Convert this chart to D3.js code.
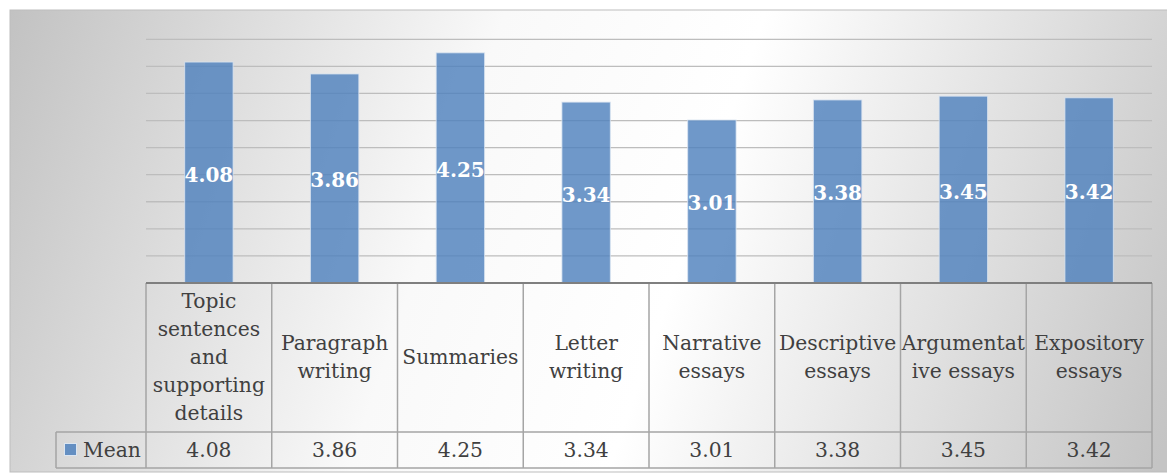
<!DOCTYPE html>
<html>
<head>
<meta charset="utf-8">
<script src="https://cdn.jsdelivr.net/npm/d3@7"></script>
<style>
  body { margin: 0; background: #fff; }
  svg { display: block; }
</style>
</head>
<body>
<div id="chart"></div>
<script>
// Chart data
const categories = ["Topic sentences and supporting details", "Paragraph writing", "Summaries",
    "Letter writing", "Narrative essays", "Descriptive essays", "Argumentative essays", "Expository essays"];
// how each category label wraps inside its table cell
const categoryLines = [
    ["Topic", "sentences", "and", "supporting", "details"],
    ["Paragraph", "writing"],
    ["Summaries"],
    ["Letter", "writing"],
    ["Narrative", "essays"],
    ["Descriptive", "essays"],
    ["Argumentat", "ive essays"],
    ["Expository", "essays"]
];
const seriesName = "Mean";
const meanValues = [4.08, 3.86, 4.25, 3.34, 3.01, 3.38, 3.45, 3.42];
const yTicks = [0, 0.5, 1, 1.5, 2, 2.5, 3, 3.5, 4, 4.5];

const width = 1167, height = 476;
const plot = {left: 146, right: 1152, top: 39.3, bottom: 283};
const headerBottom = 432, tableBottom = 468;
const legendLeft = 56;
const serif = "'DejaVu Serif', 'Liberation Serif', serif";
const tableFont = "20.3px";

let svg = d3.select("#chart")
    .append("svg")
    .attr("width", width)
    .attr("height", height);

// Background gradient of the chart area (grey edges, white middle, slightly tilted)
let defs = svg.append("defs");
let grad = defs.append("linearGradient")
    .attr("id", "bg")
    .attr("gradientUnits", "userSpaceOnUse")
    .attr("x1", 0).attr("y1", 40)
    .attr("x2", 1167).attr("y2", 440);
grad.append("stop").attr("offset", "0%").attr("stop-color", "#c2c2c2");
grad.append("stop").attr("offset", "38%").attr("stop-color", "#f9f9f9");
grad.append("stop").attr("offset", "58%").attr("stop-color", "#ffffff");
grad.append("stop").attr("offset", "100%").attr("stop-color", "#c4c4c4");

svg.append("rect")
    .attr("x", 10).attr("y", 10)
    .attr("width", 1170).attr("height", 462)
    .attr("fill", "url(#bg)")
    .attr("stroke", "#bdbdbd")
    .attr("stroke-width", 1);

// Scales
let x = d3.scaleBand()
    .domain(categories)
    .range([plot.left, plot.right])
    .paddingInner(0.615)
    .paddingOuter(0.3075);

let col = d3.scaleBand()
    .domain(categories)
    .range([plot.left, plot.right]);

let y = d3.scaleLinear()
    .domain([0, 4.5])
    .range([plot.bottom, plot.top]);

// Gridlines
svg.append("g")
    .selectAll("line")
    .data(yTicks.slice(1))
    .join("line")
    .attr("x1", plot.left).attr("x2", plot.right)
    .attr("y1", d => y(d)).attr("y2", d => y(d))
    .attr("stroke", "#bdbdbd")
    .attr("stroke-width", 1.3);

// Bars
svg.append("g")
    .selectAll("rect")
    .data(meanValues)
    .join("rect")
    .attr("x", (d, i) => x(categories[i]))
    .attr("y", d => y(d))
    .attr("width", x.bandwidth())
    .attr("height", d => y(0) - y(d))
    .attr("fill", "#4f81bd")
    .attr("fill-opacity", 0.82)
    .attr("stroke", "#dbe5f1")
    .attr("stroke-opacity", 0.8)
    .attr("stroke-width", 1);

// Data labels (centered in bars)
svg.append("g")
    .selectAll("text")
    .data(meanValues)
    .join("text")
    .attr("x", (d, i) => x(categories[i]) + x.bandwidth() / 2)
    .attr("y", d => (y(d) + y(0)) / 2 + 2)
    .attr("text-anchor", "middle")
    .attr("dominant-baseline", "central")
    .style("font-family", serif)
    .style("font-weight", "bold")
    .style("font-size", "20px")
    .style("fill", "#ffffff")
    .text(d => d.toFixed(2));

// Data table
let table = svg.append("g");
const gridColor = "#a5a5a5";

// vertical column separators
table.selectAll("line.col")
    .data(d3.range(categories.length + 1))
    .join("line")
    .attr("class", "col")
    .attr("x1", i => plot.left + i * col.bandwidth())
    .attr("x2", i => plot.left + i * col.bandwidth())
    .attr("y1", plot.bottom)
    .attr("y2", tableBottom)
    .attr("stroke", gridColor)
    .attr("stroke-width", 1.5);

// horizontal lines
table.append("line")
    .attr("x1", legendLeft).attr("x2", plot.right)
    .attr("y1", headerBottom).attr("y2", headerBottom)
    .attr("stroke", gridColor).attr("stroke-width", 1.5);
table.append("line")
    .attr("x1", legendLeft).attr("x2", plot.right)
    .attr("y1", tableBottom).attr("y2", tableBottom)
    .attr("stroke", gridColor).attr("stroke-width", 1.5);
table.append("line")
    .attr("x1", legendLeft).attr("x2", legendLeft)
    .attr("y1", headerBottom).attr("y2", tableBottom)
    .attr("stroke", gridColor).attr("stroke-width", 1.5);

// category axis line
svg.append("line")
    .attr("x1", plot.left).attr("x2", plot.right)
    .attr("y1", plot.bottom).attr("y2", plot.bottom)
    .attr("stroke", "#7f7f7f")
    .attr("stroke-width", 2);

// category labels
const lineH = 28;
let headMid = (plot.bottom + headerBottom) / 2;
table.selectAll("text.cat")
    .data(categoryLines)
    .join("text")
    .attr("class", "cat")
    .attr("text-anchor", "middle")
    .style("font-family", serif)
    .style("font-size", tableFont)
    .style("fill", "#404040")
    .each(function(lines, i) {
        let cx = col(categories[i]) + col.bandwidth() / 2;
        let startY = headMid - (lines.length - 1) * lineH / 2 + 6;
        d3.select(this).selectAll("tspan")
            .data(lines)
            .join("tspan")
            .attr("x", cx)
            .attr("y", (l, j) => startY + j * lineH)
            .text(l => l);
    });

// value row
let rowMid = (headerBottom + tableBottom) / 2;
table.selectAll("text.val")
    .data(meanValues)
    .join("text")
    .attr("class", "val")
    .attr("x", (d, i) => col(categories[i]) + col.bandwidth() / 2)
    .attr("y", rowMid + 7)
    .attr("text-anchor", "middle")
    .style("font-family", serif)
    .style("font-size", tableFont)
    .style("fill", "#404040")
    .text(d => d.toFixed(2));

// legend key + series name
table.append("rect")
    .attr("x", 64.5).attr("y", 443.5)
    .attr("width", 12).attr("height", 12)
    .attr("fill", "#4f81bd")
    .attr("fill-opacity", 0.85)
    .attr("stroke", "#dbe5f1")
    .attr("stroke-width", 1);
table.append("text")
    .attr("x", 83)
    .attr("y", rowMid + 7)
    .style("font-family", serif)
    .style("font-size", tableFont)
    .style("fill", "#404040")
    .text(seriesName);
</script>
</body>
</html>
